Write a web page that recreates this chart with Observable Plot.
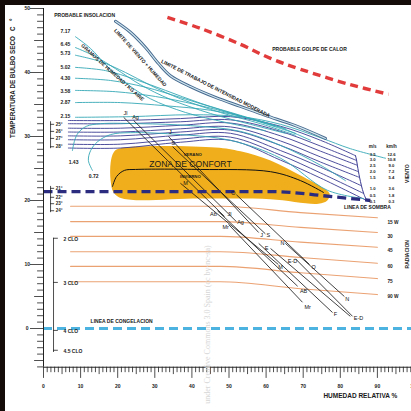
<!DOCTYPE html>
<html><head><meta charset="utf-8">
<script src="https://cdn.jsdelivr.net/npm/d3@7"></script>
<script src="https://cdn.jsdelivr.net/npm/@observablehq/plot@0.6"></script>
<style>
html,body{margin:0;padding:0;background:#fff;overflow:hidden;}
#wrap{position:relative;width:411px;height:411px;}
.bar{position:absolute;background:#140c08;}
</style></head><body>
<div id="wrap"><div id="chart"></div>
<div class="bar" style="left:0;top:0;width:411px;height:5px"></div>
<div class="bar" style="left:0;top:0;width:5px;height:411px"></div></div>
<script>
// ---------- DATA (RH %, dry bulb temperature °C) ----------
const yTickLabels = [0,10,20,30,40,50];
const xTickLabels = [0,10,20,30,40,50,60,70,80,90,100];

const comfortZone = [[20.2,28.1],[46.4,28.3],[53.1,27.7],[61.2,26.25],[69.3,23.9],[75.2,22.0],[77.1,21.1],[76.5,20.0],[74.1,19.5],[61.2,20.2],[42.3,20.3],[21.3,20.3],[18.9,21.25],[18.1,23.1],[18.1,25.9],[18.9,27.5]];
const zoneCurve = [[18.6,22.2],[19.7,23.75],[21.8,24.7],[24.8,24.85],[42.3,24.85],[61.2,24.5],[69.3,23.1],[75.5,21.25]];
const shadeLine = [[0,21.4],[61.2,21.4],[77.8,20.6],[88.1,20.0]];
const freezeT = [0];
const heatStroke = [[33.4,48.6],[42.3,46.9],[53.1,44.4],[61.2,42.2],[69.3,40.5],[82.7,38.1],[93,36.6]];
const limitLine = [[19.4,48.0],[23.5,46.25],[27.5,43.9],[31.0,41.4],[34.2,39.5],[39.6,37.8],[46.4,36.1],[53.1,34.7],[59.8,33.3],[67.9,31.7],[76.0,29.7]];

// humidity lines (g/kg)
const humLabels = ["7.17","6.45","5.73","5.02","4.30","3.58","2.87","2.15","1.43","0.72"];
const humLabelPos = [[5.9,46.4],[5.9,44.4],[5.9,43.0],[5.9,40.8],[5.9,39.1],[5.9,37.0],[5.9,35.3],[5.9,33.1],[8.1,25.9],[13.5,23.75]];
const hum717 = [[8.6,45.6],[12.7,43.75],[16.7,41.25],[22.1,38.4],[28.8,35.9],[38.3,33.75],[49.1,32.2],[59.8,30.9]];
const hum645 = [[8.6,43.9],[14.0,42.5],[19.4,40.6],[26.1,38.1],[34.2,35.8],[45.0,33.6],[55.8,31.9],[65.2,30.5]];
const hum573 = [[8.6,42.7],[15.4,41.7],[22.1,40.0],[28.8,38.0],[36.9,35.9],[47.7,33.75],[58.5,32.0],[67.9,30.2]];
const hum502 = [[8.6,40.8],[16.7,40.3],[24.8,38.9],[32.9,37.2],[42.3,35.2],[53.1,33.3],[63.9,31.4],[72.0,29.4]];
const hum430 = [[8.6,39.1],[18.1,38.75],[27.5,37.7],[36.9,36.1],[46.4,34.4],[57.1,32.5],[67.9,30.5]];
const hum358 = [[8.6,37.2],[19.4,37.0],[30.2,36.25],[41.0,35.0],[51.8,33.4],[62.5,31.6]];
const hum287 = [[8.6,35.3],[20.8,35.3],[32.9,34.8],[45.0,34.1],[55.8,32.8],[65.2,31.25]];
const hum215 = [[8.6,33.0],[23.5,33.1],[39.6,33.4],[53.1,33.1],[63.9,31.9],[74.7,29.8],[82.7,28.1],[92.2,26.6]];
const hum143 = [[7.8,27.8],[8.4,29.4],[9.4,30.6],[11.6,31.6],[15.4,32.0],[26.1,32.0],[39.6,31.7],[53.1,30.8],[63.9,28.6],[74.7,25.5],[81.4,23.1]];
const hum072 = [[13.2,24.7],[12.1,26.25],[12.7,27.8],[14.6,29.2],[18.1,30.3],[23.5,30.6],[36.9,30.3],[50.4,29.4],[63.9,26.6],[76.5,21.6],[86.3,20.3]];

// wind lines (m/s)
const windMs = ["3.5","3.0","2.5","2.0","1.5","1.0","0.5","0.1"];
const windKmh = ["12.6","10.8","9.0","7.2","5.4","3.6","1.8","0.3"];
const windLabelT = [27.2,26.4,25.5,24.5,23.6,21.9,20.8,19.8];
const w35 = [[6.7,32.5],[20.8,32.5],[36.9,32.8],[50.4,33.1],[63.9,31.6],[74.7,29.4],[84.1,27.0]];
const w30 = [[6.7,32.0],[20.8,32.0],[36.9,32.3],[50.4,32.6],[63.9,30.8],[74.7,28.5],[84.4,26.25]];
const w25 = [[6.7,31.3],[20.8,31.3],[36.9,31.75],[50.4,32.1],[63.9,30.1],[74.7,27.7],[84.6,25.5]];
const w20 = [[6.7,30.7],[20.8,30.7],[36.9,31.2],[50.4,31.5],[63.9,29.3],[74.7,26.8],[84.9,24.5]];
const w15 = [[6.7,30.1],[20.8,30.1],[36.9,30.7],[50.4,31.0],[63.9,28.6],[74.7,26.0],[85.2,23.6]];
const w10 = [[6.7,29.5],[20.8,29.5],[36.9,30.2],[50.4,30.5],[63.9,27.8],[74.7,25.2],[85.7,22.3]];
const w05 = [[6.7,28.8],[20.8,28.8],[36.9,29.6],[50.4,29.9],[63.9,27.1],[74.7,24.3],[86.3,21.1]];
const w01 = [[6.7,28.2],[20.8,28.2],[36.9,29.1],[50.4,29.4],[63.9,26.3],[74.7,23.5],[87.1,20.0]];

// radiation lines (W)
const radLabels = ["15 W","30","45","60","75","90 W"];
const radLabelT = [16.6,14.4,12.2,9.7,7.3,5.0];
const rad15 = [[7.3,19.1],[47.7,19.1],[69.3,18.1],[90,17.3]];
const rad30 = [[7.3,16.7],[47.7,16.7],[69.3,15.8],[90,15.0]];
const rad45 = [[7.3,14.4],[47.7,14.4],[69.3,13.5],[90,12.7]];
const rad60 = [[7.3,12.0],[47.7,12.0],[69.3,11.1],[90,10.2]];
const rad75 = [[7.3,9.7],[47.7,9.7],[69.3,8.7],[90,7.8]];
const rad90 = [[7.3,7.3],[47.7,7.3],[69.3,6.2],[90,5.3]];

// monthly climate lines (max T / min RH  ->  min T / max RH)
const monthNames = ["Jl","Ag","J","S","M","Ab","Mr","O","N","F","E","D"];
const monthStart = [[21.6,33.0],[24.3,32.5],[33.7,30.0],[34.8,28.4],[36.9,22.7],[46.9,18.4],[49.9,16.25],[52.0,20.9],[65.2,13.3],[58.0,13.3],[61.2,12.5],[67.9,10.9]];
const monthEnd = [[48.8,17.5],[52.0,16.7],[58.0,15.0],[59.8,14.8],[63.3,10.0],[68.5,6.6],[69.8,4.1],[71.7,10.0],[81.1,5.0],[77.9,2.5],[82.7,1.9],[83.3,1.9]];
const monthLabels = ["Jl","Ag","J","S","M","O","Ab","Jl","Ag","Mr","J","S","N","E","E-D","M","O","AB","Mr","N","F","E-D"];
const monthLabelPos = [[22.1,33.6],[24.8,33.0],[34.2,30.6],[35.0,28.9],[38.3,22.7],[51.2,21.1],[45.8,17.8],[50.1,17.8],[53.1,16.6],[49.1,15.9],[58.8,14.5],[60.6,14.5],[64.4,13.3],[60.1,12.5],[67.1,10.5],[63.9,9.5],[72.8,9.5],[70.1,5.9],[71.2,3.4],[81.9,4.5],[78.7,2.3],[84.9,1.6]];

// left scale annotations
const degUpper = ["25°","26°","27°","28°"];
const degUpperT = [31.9,30.8,29.7,28.4];
const degLower = ["21°","22°","23°","24°"];
const degLowerT = [21.9,20.5,19.5,18.4];
const cloLabels = ["2 CLO","3 CLO","4 CLO","4.5 CLO"];
const cloT = [13.9,7.0,-0.5,-3.6];

// ---------- BUILD ----------
const toRows = (lines, ids) => lines.flatMap((pts,i) => pts.map(([rh,t]) => ({rh, t, id: ids[i]})));
const humRows = toRows([hum717,hum645,hum573,hum502,hum430,hum358,hum287,hum215,hum143,hum072], humLabels);
const windLines = [w35,w30,w25,w20,w15,w10,w05,w01];
const windRows = toRows(windLines, windMs);
const windEnds = windLines.map(l => l[l.length-1]);
const radRows = toRows([rad15,rad30,rad45,rad60,rad75,rad90], radLabels);
const months = monthNames.map((m,i) => ({m, x1: monthStart[i][0], y1: monthStart[i][1], x2: monthEnd[i][0], y2: monthEnd[i][1]}));
const pt = (arr) => arr.map(([rh,t]) => ({rh,t}));

const F = "Liberation Sans, Arial, sans-serif";
const navy = "#3b3b93", teal = "#35a8b5", orange = "#eba273";
const yTicks = d3.range(-6, 51), xTicks = d3.range(0, 101);

const txt = (s, rh, t, o={}) => Plot.text([s], {x: () => rh, y: () => t, text: d => d, fontFamily: F, fontSize: 5, fontWeight: "bold", fill: "#1a1a1a", ...o});

const chart = Plot.plot({
  width: 411, height: 411,
  x: {domain: [0,100], range: [43,414], axis: null},
  y: {domain: [-6,50], range: [366.4,8], axis: null},
  style: {background: "#fff", fontFamily: F},
  marks: [
    Plot.line(pt(comfortZone), {x:"rh", y:"t", fill:"#f0ae1c", stroke:"none", curve:"catmull-rom-closed"}),
    Plot.line(radRows, {x:"rh", y:"t", z:"id", stroke: orange, strokeWidth: 1.1, curve:"monotone-x"}),
    Plot.line(windRows, {x:"rh", y:"t", z:"id", stroke: navy, strokeWidth: 0.9, curve:"catmull-rom"}),
    Plot.line(pt(windEnds), {x:"rh", y:"t", stroke: navy, strokeWidth: 1, curve:"catmull-rom"}),
    Plot.line(humRows, {x:"rh", y:"t", z:"id", stroke: teal, strokeWidth: 0.9, curve:"catmull-rom"}),
    Plot.line(pt(limitLine), {x:"rh", y:"t", stroke:"#46698f", strokeWidth: 3, curve:"catmull-rom"}),
    Plot.line(pt(limitLine), {x:"rh", y:"t", stroke:"#d3e8ef", strokeWidth: 1.1, curve:"catmull-rom"}),
    Plot.line(pt(heatStroke), {x:"rh", y:"t", stroke:"#e23b3b", strokeWidth: 3.4, strokeDasharray:"8,5", strokeLinecap:"butt", curve:"catmull-rom"}),
    Plot.line(pt(zoneCurve), {x:"rh", y:"t", stroke:"#111", strokeWidth: 1, curve:"catmull-rom"}),
    Plot.link(months, {x1:"x1", y1:"y1", x2:"x2", y2:"y2", stroke:"#111", strokeWidth: 0.8}),
    Plot.line(pt(shadeLine), {x:"rh", y:"t", stroke:"#2b2b80", strokeWidth: 3.3, strokeDasharray:"9,5", strokeLinecap:"butt", curve:"monotone-x"}),
    Plot.ruleY(freezeT, {x1: 0, x2: 100, stroke:"#4cb3e0", strokeWidth: 3, strokeDasharray:"9,5"}),
    // axes
    Plot.ruleX([0], {y1: -6.05, y2: 50, stroke:"#222", strokeWidth: 1}),
    Plot.ruleY([-6.05], {x1: 0, x2: 100, stroke:"#222", strokeWidth: 1}),
    Plot.ruleY(yTicks, {y: d => d, x1: d => d%10===0 ? -3.5 : d%5===0 ? -2.4 : -1.6, x2: 0, stroke:"#222", strokeWidth: 0.8}),
    Plot.ruleX(xTicks, {x: d => d, y1: -6.05, y2: d => d%10===0 ? -7.8 : d%5===0 ? -7.2 : -6.9, stroke:"#222", strokeWidth: 0.8}),
    Plot.text(yTickLabels, {x: () => -4.4, y: d => d, text: d => String(d), fontFamily: F, fontSize: 5, fontWeight: "bold", fill:"#222"}),
    Plot.text(xTickLabels, {x: d => d, y: () => -9.1, text: d => String(d), fontFamily: F, fontSize: 5, fontWeight: "bold", fill:"#222"}),
    txt("TEMPERATURA DE BULBO SECO   C   °", -8.1, 39.1, {rotate: -90, fontSize: 6.3}),
    txt("HUMEDAD RELATIVA %", 85.4, -10.6, {fontSize: 6.5}),
    // brackets
    Plot.ruleX([1.9], {y1: 28.1, y2: 32.3, stroke:"#222", strokeWidth: 0.8}),
    Plot.ruleY(degUpperT, {y: d => d, x1: () => 1.9, x2: () => 3.0, stroke:"#222", strokeWidth: 0.8}),
    Plot.ruleX([1.9], {y1: 18.1, y2: 22.2, stroke:"#222", strokeWidth: 0.8}),
    Plot.ruleY(degLowerT, {y: d => d, x1: () => 1.9, x2: () => 3.0, stroke:"#222", strokeWidth: 0.8}),
    Plot.ruleX([2.7], {y1: -3.75, y2: 14.1, stroke:"#222", strokeWidth: 0.8}),
    Plot.ruleY(cloT.map(t => t + 0.2), {y: d => d, x1: () => 2.7, x2: () => 4.0, stroke:"#222", strokeWidth: 0.8}),
    Plot.text(degUpper, {x: () => 3.3, y: (d,i) => degUpperT[i], text: d => d, textAnchor:"start", fontFamily: F, fontSize: 4.5, fontWeight:"bold", fill:"#222"}),
    Plot.text(degLower, {x: () => 3.3, y: (d,i) => degLowerT[i], text: d => d, textAnchor:"start", fontFamily: F, fontSize: 4.5, fontWeight:"bold", fill:"#222"}),
    Plot.text(cloLabels, {x: () => 5.4, y: (d,i) => cloT[i], text: d => d, textAnchor:"start", fontFamily: F, fontSize: 5, fontWeight:"bold", fill:"#222"}),
    Plot.text(humLabels, {x: (d,i) => humLabelPos[i][0], y: (d,i) => humLabelPos[i][1], text: d => d, fontFamily: F, fontSize: 5, fontWeight:"bold", fill:"#222"}),
    // wind labels
    txt("m/s", 88.7, 28.4, {fontSize: 4.5}), txt("km/h", 93.8, 28.4, {fontSize: 4.5}),
    Plot.text(windMs, {x: () => 88.7, y: (d,i) => windLabelT[i], text: d => d, fontFamily: F, fontSize: 4.2, fontWeight:"bold", fill:"#222"}),
    Plot.text(windKmh, {x: () => 93.8, y: (d,i) => windLabelT[i], text: d => d, fontFamily: F, fontSize: 4.2, fontWeight:"bold", fill:"#222"}),
    Plot.text(radLabels, {x: () => 92.7, y: (d,i) => radLabelT[i], text: d => d, textAnchor:"start", fontFamily: F, fontSize: 4.8, fontWeight:"bold", fill:"#222"}),
    Plot.text(monthLabels, {x: (d,i) => monthLabelPos[i][0], y: (d,i) => monthLabelPos[i][1], text: d => d, fontFamily: F, fontSize: 5.5, fill:"#111"}),
    // annotations
    txt("PROBABLE INSOLACION", 11.1, 48.9),
    txt("PROBABLE GOLPE DE CALOR", 71.7, 43.6),
    txt("LIMITE DE VIENTO + HUMEDAD", 26.1, 42.3, {rotate: 48}),
    txt("LIMITE DE TRABAJO DE INTENSIDAD MODERADA", 46.4, 37.5, {rotate: 27}),
    txt("GRAMOS DE HUMEDAD / KG AIRE", 18.6, 40.0, {rotate: 42}),
    txt("VERANO", 40.2, 27.1, {fontSize: 4.3}),
    txt("ZONA DE CONFORT", 39.6, 25.7, {fontSize: 8.6, fontWeight: "normal"}),
    txt("INVIERNO", 39.6, 23.75, {fontSize: 4.3}),
    txt("LINEA DE SOMBRA", 87.3, 18.9),
    txt("LINEA DE CONGELACION", 12.7, 1.1, {textAnchor: "start"}),
    txt("VIENTO", 98.1, 24.2, {rotate: -90}),
    txt("RADIACION", 98.1, 11.6, {rotate: -90}),
    Plot.text(["under Creative Commons 3.0 Spain (cc by-nc-sa)"], {x: () => 44.2, y: () => 13.0, text: d => d, rotate: -90, textAnchor: "end", fontFamily: "Liberation Serif, serif", fontSize: 8, fill: "#d6d6d6"})
  ]
});
document.getElementById("chart").appendChild(chart);
</script>
</body></html>
